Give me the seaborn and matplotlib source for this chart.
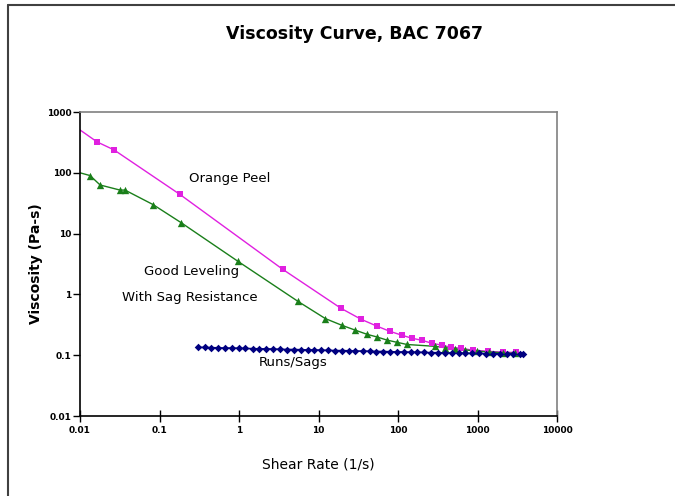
import matplotlib
matplotlib.use("Agg")
import matplotlib.pyplot as plt
import seaborn as sns
import pandas as pd
from matplotlib.lines import Line2D

# ---- data ----
peel_x = [0.0164, 0.0268, 0.181, 3.57, 19.2, 34.3, 54.5, 79, 112, 150, 200, 267,
          357, 464, 620, 877, 1350, 2080, 3050]
peel_y = [322, 238, 44, 2.57, 0.59, 0.39, 0.30, 0.247, 0.213, 0.19, 0.176, 0.157,
          0.146, 0.135, 0.13, 0.121, 0.116, 0.112, 0.111]
peel_start = (0.01, 507)

level_x = [0.0134, 0.0179, 0.0318, 0.0368, 0.083, 0.186, 0.97, 5.5, 12.2, 19.7,
           28.6, 41, 54, 73, 97, 130, 290, 390, 520, 700, 990, 1400, 2080, 3000]
level_y = [90, 63, 52, 52, 30, 15.2, 3.5, 0.77, 0.40, 0.31, 0.26, 0.22, 0.20,
           0.177, 0.163, 0.15, 0.14, 0.133, 0.127, 0.122, 0.117, 0.113, 0.11, 0.107]
level_start = (0.01, 100)

sag_x = [0.305, 0.37, 0.45, 0.55, 0.67, 0.82, 1.0, 1.2, 1.5, 1.8, 2.2, 2.7, 3.3,
         4.0, 4.9, 6.0, 7.3, 8.9, 10.9, 13.3, 16.2, 19.8, 24, 29, 36, 44, 53, 65,
         79, 97, 118, 144, 175, 214, 261, 318, 388, 473, 577, 704, 860, 1050,
         1280, 1560, 1900, 2320, 2830, 3450, 3700]
sag_y = [0.135, 0.134, 0.133, 0.132, 0.131, 0.131, 0.130, 0.129, 0.128, 0.127,
         0.127, 0.126, 0.125, 0.124, 0.124, 0.123, 0.122, 0.122, 0.121, 0.120,
         0.119, 0.119, 0.118, 0.117, 0.117, 0.116, 0.115, 0.115, 0.114, 0.113,
         0.113, 0.112, 0.112, 0.111, 0.110, 0.110, 0.109, 0.109, 0.108, 0.108,
         0.107, 0.107, 0.106, 0.106, 0.105, 0.105, 0.105, 0.104, 0.104]

x_ticks = [0.01, 0.1, 1, 10, 100, 1000, 10000]
x_ticklabels = ["0.01", "0.1", "1", "10", "100", "1000", "10000"]
y_ticks = [0.01, 0.1, 1, 10, 100, 1000]
y_ticklabels = ["0.01", "0.1", "1", "10", "100", "1000"]

title = "Viscosity Curve, BAC 7067"
xlabel = "Shear Rate (1/s)"
ylabel = "Viscosity (Pa-s)"

sns.set_theme(style="white")
plt.rcParams['font.family'] = ['DejaVu Sans']
plt.rcParams['text.color'] = 'black'
plt.rcParams['axes.labelcolor'] = 'black'
plt.rcParams['xtick.color'] = 'black'
plt.rcParams['ytick.color'] = 'black'

fig = plt.figure(figsize=(6.75, 4.96), dpi=100)
ax = fig.add_axes([80/675, 1-416/496, (557-80)/675, (416-112)/496])

MAG = "#e020e0"
GRN = "#1a7f1a"
BLU = "#000080"

peel_line = pd.DataFrame({"x": [peel_start[0]] + peel_x, "y": [peel_start[1]] + peel_y})
level_line = pd.DataFrame({"x": [level_start[0]] + level_x, "y": [level_start[1]] + level_y})
sag_df = pd.DataFrame({"x": sag_x, "y": sag_y})

sns.lineplot(data=peel_line, x="x", y="y", ax=ax, color=MAG, lw=1.0, sort=False)
sns.lineplot(data=level_line, x="x", y="y", ax=ax, color=GRN, lw=1.0, sort=False)
sns.lineplot(data=sag_df, x="x", y="y", ax=ax, color=BLU, lw=1.2, sort=False)

sns.scatterplot(x=peel_x, y=peel_y, ax=ax, marker="s", s=15, color=MAG, edgecolor=MAG, linewidth=0, zorder=3)
sns.scatterplot(x=level_x, y=level_y, ax=ax, marker="^", s=28, color=GRN, edgecolor=GRN, linewidth=0, zorder=3)
sns.scatterplot(x=sag_x, y=sag_y, ax=ax, marker="D", s=15, color=BLU, edgecolor=BLU, linewidth=0, zorder=4)

ax.set_xscale("log")
ax.set_yscale("log")
ax.set_xlim(0.01, 10000)
ax.set_ylim(0.01, 1000)
ax.set_xticks(x_ticks)
ax.set_xticklabels(x_ticklabels)
ax.set_yticks(y_ticks)
ax.set_yticklabels(y_ticklabels)
ax.minorticks_off()
ax.tick_params(axis="x", direction="inout", length=9, width=1, colors="black",
               labelsize=6.5, pad=3, bottom=True)
ax.tick_params(axis="y", direction="out", length=5, width=1, colors="black",
               labelsize=6.5, pad=1, left=True)
for lab in ax.get_xticklabels() + ax.get_yticklabels():
    lab.set_fontweight("bold")

for s in ["left", "bottom"]:
    ax.spines[s].set_color("black")
    ax.spines[s].set_linewidth(1.2)
for s in ["top", "right"]:
    ax.spines[s].set_color("#808080")
    ax.spines[s].set_linewidth(1.2)
    ax.spines[s].set_visible(True)

ax.set_xlabel(xlabel, fontsize=10)
ax.set_ylabel(ylabel, fontsize=10, fontweight="bold")
ax.xaxis.set_label_coords(0.5, -0.137)
ax.yaxis.set_label_coords(-0.078, 0.5)

fig.text(354/675, 1-34/496, title, ha="center", va="center", fontsize=12.5,
         fontweight="bold", color="black")

ax.text(0.77, 80, "Orange Peel", fontsize=9.5, ha="center", va="center")
ax.text(0.25, 2.38, "Good Leveling", fontsize=9.5, ha="center", va="center")
ax.text(0.24, 0.89, "With Sag Resistance", fontsize=9.5, ha="center", va="center")
ax.text(4.8, 0.077, "Runs/Sags", fontsize=9.5, ha="center", va="center")

fig.add_artist(Line2D([8/675, 8/675], [0, 1-5/496], color="#404040", lw=1.5))
fig.add_artist(Line2D([8/675, 1], [1-5/496, 1-5/496], color="#404040", lw=1.5))

fig.savefig("out.png", dpi=100)
